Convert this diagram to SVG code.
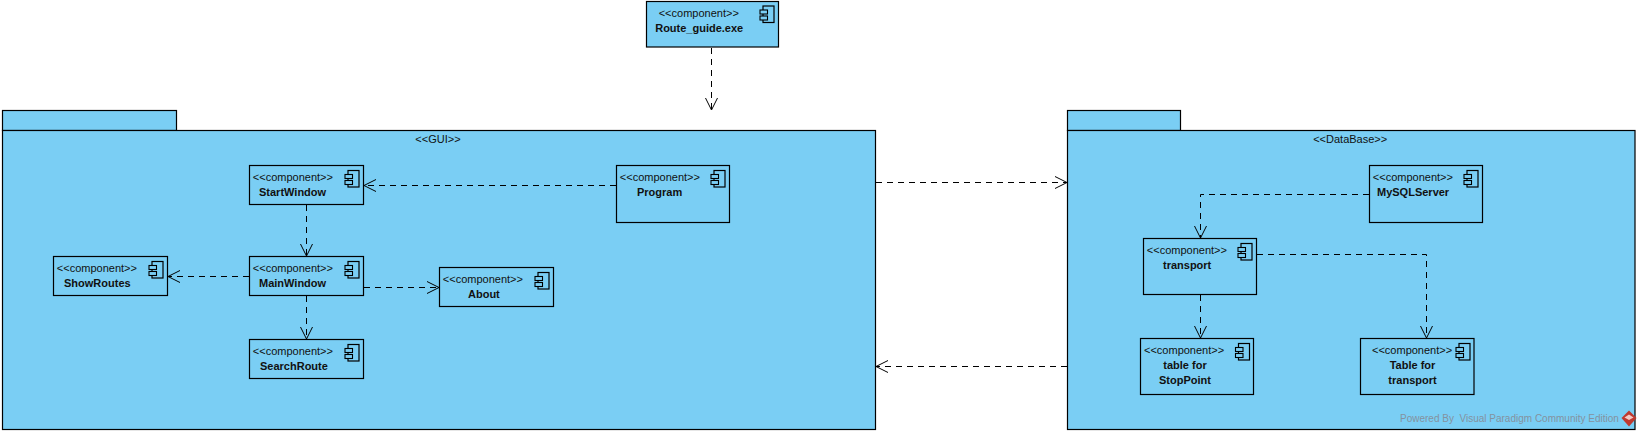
<svg xmlns="http://www.w3.org/2000/svg" width="1640" height="435" viewBox="0 0 1640 435">
<style>
text{font-family:"Liberation Sans",Arial,sans-serif;font-size:11px;fill:#111}
.b{font-weight:bold}
.s{fill:#7ACEF4;stroke:#000;stroke-width:1.2}
.i{fill:none;stroke:#000;stroke-width:1.2}
.l{fill:#7ACEF4;stroke:#000;stroke-width:1.1}
.c{fill:none;stroke:#000;stroke-width:1;stroke-dasharray:6 5}
.h{fill:none;stroke:#000;stroke-width:1}
</style>
<defs>
<g id="ic"><rect class="i" x="-11" y="0" width="11" height="16.5"/><rect class="l" x="-14" y="4" width="7.5" height="4"/><rect class="l" x="-14" y="10" width="7.5" height="4"/></g>
</defs>
<rect width="1640" height="435" fill="#fff"/>
<g id="pkg-gui"><rect class="s" x="2.5" y="110.5" width="174" height="20"/><rect class="s" x="2.5" y="130.5" width="873" height="299"/><text x="438" y="142.5" text-anchor="middle">&lt;&lt;GUI&gt;&gt;</text></g>
<g id="pkg-db"><rect class="s" x="1067.5" y="110.5" width="113" height="20"/><rect class="s" x="1067.5" y="130.5" width="567.5" height="299"/><text x="1313.2" y="142.5">&lt;&lt;DataBase&gt;&gt;</text></g>
<g id="route"><rect class="s" x="646.5" y="1.5" width="132" height="45.5"/><use href="#ic" x="774" y="6"/><text x="658.7" y="16.7">&lt;&lt;component&gt;&gt;</text><text class="b" x="655.2" y="31.7">Route_guide.exe</text></g>
<g id="startwindow"><rect class="s" x="249.5" y="165.5" width="114" height="39"/><use href="#ic" x="359" y="170.5"/><text x="252.8" y="181">&lt;&lt;component&gt;&gt;</text><text class="b" x="259" y="195.7">StartWindow</text></g>
<g id="mainwindow"><rect class="s" x="249.5" y="256.5" width="114" height="39"/><use href="#ic" x="359" y="261.5"/><text x="252.8" y="272">&lt;&lt;component&gt;&gt;</text><text class="b" x="259" y="286.7">MainWindow</text></g>
<g id="showroutes"><rect class="s" x="53.5" y="256.5" width="114" height="39"/><use href="#ic" x="163" y="261.5"/><text x="56.8" y="272">&lt;&lt;component&gt;&gt;</text><text class="b" x="64" y="286.7">ShowRoutes</text></g>
<g id="about"><rect class="s" x="439.5" y="267.5" width="114" height="39"/><use href="#ic" x="549" y="272.5"/><text x="442.8" y="283">&lt;&lt;component&gt;&gt;</text><text class="b" x="468" y="297.7">About</text></g>
<g id="searchroute"><rect class="s" x="249.5" y="339.5" width="114" height="39"/><use href="#ic" x="359" y="344.5"/><text x="252.8" y="355">&lt;&lt;component&gt;&gt;</text><text class="b" x="260" y="369.7">SearchRoute</text></g>
<g id="program"><rect class="s" x="616.5" y="165.5" width="113" height="57"/><use href="#ic" x="725" y="170.5"/><text x="619.8" y="181">&lt;&lt;component&gt;&gt;</text><text class="b" x="637" y="195.7">Program</text></g>
<g id="mysqlserver"><rect class="s" x="1369.5" y="165.5" width="113" height="57"/><use href="#ic" x="1478" y="170.5"/><text x="1372.8" y="181">&lt;&lt;component&gt;&gt;</text><text class="b" x="1377" y="195.7">MySQLServer</text></g>
<g id="transport"><rect class="s" x="1143.5" y="238.5" width="113" height="56"/><use href="#ic" x="1252" y="243.5"/><text x="1146.8" y="254">&lt;&lt;component&gt;&gt;</text><text class="b" x="1163" y="268.7">transport</text></g>
<g id="stoppoint"><rect class="s" x="1140.5" y="338.5" width="113" height="56"/><use href="#ic" x="1249.5" y="343.5"/><text x="1144" y="354">&lt;&lt;component&gt;&gt;</text><text class="b" x="1185" y="369" text-anchor="middle">table for</text><text class="b" x="1185" y="384" text-anchor="middle">StopPoint</text></g>
<g id="tablefortransport"><rect class="s" x="1360.5" y="338.5" width="113.5" height="56"/><use href="#ic" x="1470" y="343.5"/><text x="1372" y="354">&lt;&lt;component&gt;&gt;</text><text class="b" x="1412.5" y="369" text-anchor="middle">Table for</text><text class="b" x="1412.5" y="384" text-anchor="middle">transport</text></g>
<g id="connectors">
<path class="c" d="M711.5 48V110"/><path class="h" d="M705.5 98L711.5 110L717.5 98"/>
<path class="c" d="M616 185.5H364"/><path class="h" d="M376 179.5L364 185.5L376 191.5"/>
<path class="c" d="M306.5 205V256"/><path class="h" d="M300.5 244L306.5 256L312.5 244"/>
<path class="c" d="M249 276.5H168"/><path class="h" d="M180 270.5L168 276.5L180 282.5"/>
<path class="c" d="M364 287.5H439"/><path class="h" d="M427 281.5L439 287.5L427 293.5"/>
<path class="c" d="M306.5 296V339"/><path class="h" d="M300.5 327L306.5 339L312.5 327"/>
<path class="c" d="M876 182.5H1067"/><path class="h" d="M1055 176.5L1067 182.5L1055 188.5"/>
<path class="c" d="M1067 366.5H876"/><path class="h" d="M888 360.5L876 366.5L888 372.5"/>
<path class="c" d="M1369 194.5H1200.5V238"/><path class="h" d="M1194.5 226L1200.5 238L1206.5 226"/>
<path class="c" d="M1257 254.5H1426.5V338"/><path class="h" d="M1420.5 326L1426.5 338L1432.5 326"/>
<path class="c" d="M1200.5 295V338"/><path class="h" d="M1194.5 326L1200.5 338L1206.5 326"/>
</g>
<g id="watermark"><text x="1400" y="421.7" style="fill:#84929f;font-size:10px;white-space:pre">Powered By  Visual Paradigm Community Edition</text>
<path d="M1629 410.5L1636.5 418L1629 426.5L1621.5 418Z" fill="#c0392f"/><path d="M1624.5 417.5L1629 414.5L1633.5 417.5L1629 420Z" fill="#f4c9c4"/></g>
</svg>
